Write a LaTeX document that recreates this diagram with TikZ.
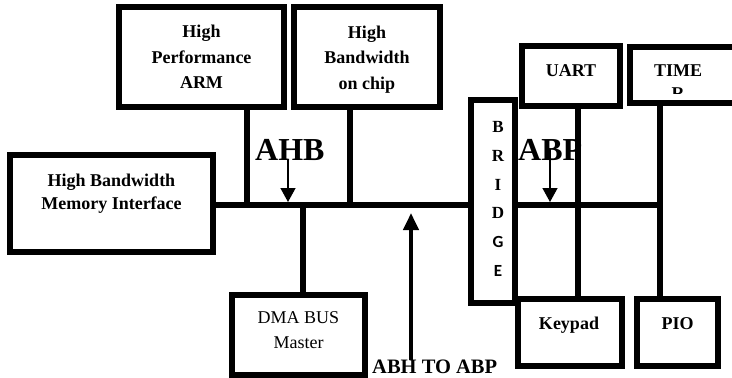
\documentclass[tikz,border=0pt]{standalone}
\usepackage{fontspec}
\setmainfont{Liberation Serif}
\newfontfamily\bridgesans{Carlito}
\usetikzlibrary{arrows.meta,positioning}

\begin{document}
\begin{tikzpicture}[x=1pt,y=-1pt,
blockbox/.style={draw,line width=6pt,inner sep=0pt,align=center,font=\bfseries\fontsize{18}{25.5}\selectfont},
blocktext/.style={inner sep=0pt,align=center,font=\bfseries\fontsize{18}{25.5}\selectfont},
wire/.style={line width=6pt,line cap=rect},
buslabel/.style={inner sep=0pt,font=\bfseries\fontsize{32}{36}\selectfont},
thinarr/.style={-{Triangle[length=14pt,width=15pt]},line width=1.3pt},
thickarr/.style={-{Triangle[length=17pt,width=15pt]},line width=4pt}]
\clip (0,0) rectangle (732,378);

% AHB side
\node[blockbox,minimum width=165pt,minimum height=100pt](arm) at (201.5,57){High\\Performance\\ARM};
\node[blockbox,minimum width=146pt,minimum height=100pt](chip) at (367,57){};
\node[blocktext](chiptxt) at (367,59.5){High\\Bandwidth\\on chip};
\node[blockbox,minimum width=203pt,minimum height=97pt](mem) at (111.5,203.5){};
\node[blocktext,font=\bfseries\fontsize{18}{23}\selectfont](memtxt) at (111.5,193.3){High Bandwidth\\Memory Interface};
\node[blockbox,minimum width=133pt,minimum height=80pt](dma) at (298.5,335){};
\node[blocktext,font=\fontsize{18}{25}\selectfont](dmatxt) at (298.5,330.5){DMA BUS\\Master};

% bridge
\node[blockbox,minimum width=44pt,minimum height=203pt](bridge) at (493,201.5){};
\node[inner sep=0pt,align=center,font=\bfseries\fontsize{17}{28.8}\selectfont](bridgetxt) at (498,199){B\\R\\I\\D\\{\bridgesans G}\\{\bridgesans E}};

% APB side
\node[blockbox,minimum width=98pt,minimum height=60pt](uart) at (571,76){};
\node[blocktext,anchor=base](uarttxt) at (571,76){UART};
\node[blockbox,minimum width=190pt,minimum height=56pt](timer) at (725,74.5){};
\begin{scope}
\clip (633,49.5) rectangle (740,93);
\node[blocktext,font=\bfseries\fontsize{18}{23}\selectfont](timertxt) at (678,82.5){TIME\\R};
\end{scope}
\node[blockbox,minimum width=104pt,minimum height=67pt](keypad) at (570,332.5){};
\node[blocktext,anchor=base](keypadtxt) at (569,329.5){Keypad};
\node[blockbox,minimum width=81pt,minimum height=67pt](pio) at (677.5,332.5){};
\node[blocktext,anchor=base](piotxt) at (677.5,329.5){PIO};

% buses
\coordinate (ahbL) at (mem.east |- 0,205);
\coordinate (ahbR) at (bridge.west |- 0,205);
\coordinate (apbL) at (bridge.east |- 0,205);
\coordinate (armtap) at (247,205);
\coordinate (chiptap) at (350,205);
\coordinate (dmatap) at (303,205);
\coordinate (uarttap) at (578,205);
\coordinate (piotap) at (660,205);
\draw[wire](ahbL)--(ahbR);
\draw[wire](apbL)--(piotap);
\draw[wire](armtap |- arm.south)--(armtap);
\draw[wire](chiptap |- chip.south)--(chiptap);
\draw[wire](dmatap)--(dmatap |- dma.north);

% labels and arrows
\node[buslabel,anchor=base west](ahb) at (255,160){AHB};
\node[buslabel,anchor=base west](abp) at (518,160){ABP};
\coordinate (ahbtip) at (288,202);
\coordinate (abptip) at (550,202);
\draw[thinarr](ahbtip |- ahb.south)--(ahbtip);
\draw[thinarr](abptip |- abp.center)--(abptip);
\draw[wire](uarttap |- uart.south)--(uarttap |- keypad.north);
\draw[wire](piotap |- timer.south)--(piotap |- pio.north);
\node[inner sep=0pt,anchor=base west,font=\bfseries\fontsize{20.5}{24}\selectfont](bridgelbl) at (372,373.5){ABH TO ABP};
\coordinate (bridgetip) at (411,213);
\draw[thickarr](bridgetip |- bridgelbl.north)--(bridgetip);
\end{tikzpicture}
\end{document}
